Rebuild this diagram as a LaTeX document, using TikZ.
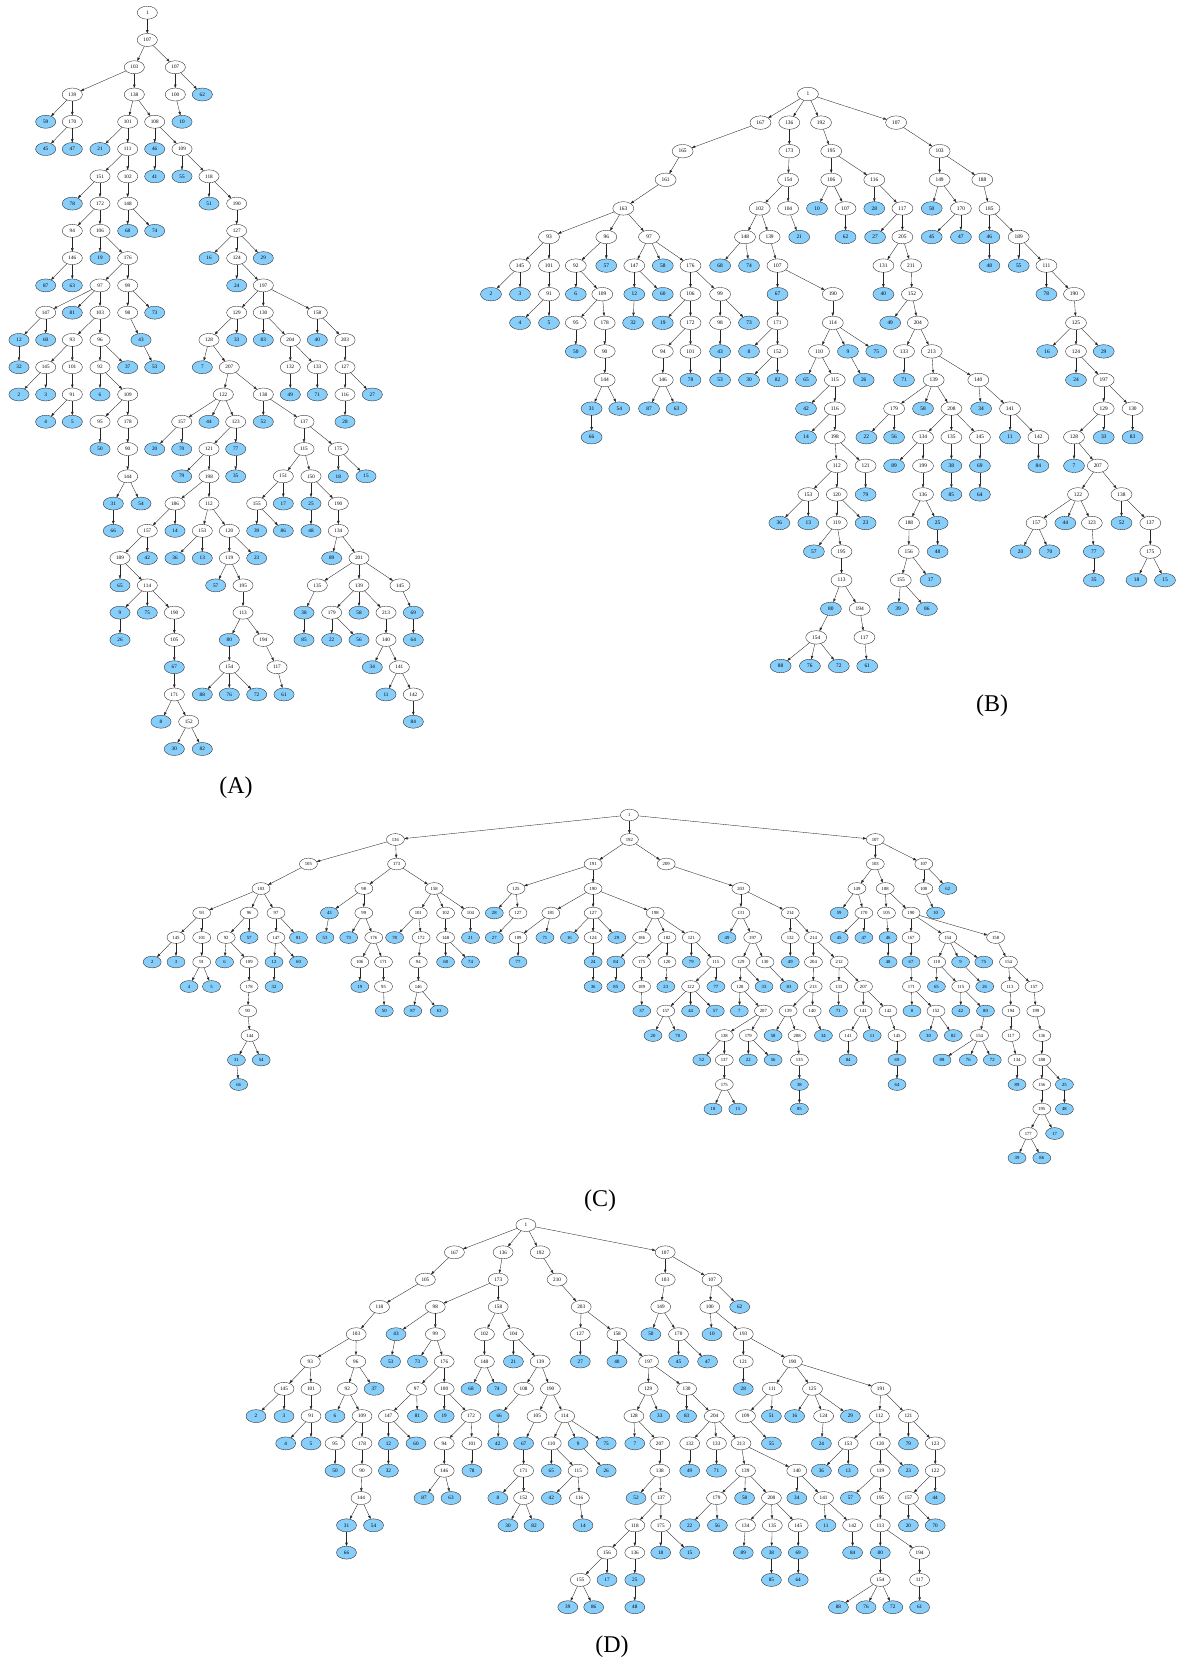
\documentclass[tikz,border=0pt]{standalone}
\usepackage{fontspec}
\setmainfont{Liberation Serif}
\usetikzlibrary{shapes.geometric,arrows.meta}
\definecolor{skyb}{HTML}{87CEFA}
\tikzset{
 nsz/.style={minimum width=20pt, minimum height=13pt, font=\fontsize{5.2}{5.2}\selectfont},
 nbase/.style={ellipse, draw=black!85, line width=0.35pt, inner sep=0pt, outer sep=0pt, nsz},
 wn/.style={nbase, fill=white},
 bn/.style={nbase, fill=skyb},
 edge/.style={line width=0.35pt, draw=black!85, -{Triangle[length=3.4pt,width=2.4pt]}},
 lbl/.style={font=\fontsize{24}{24}\selectfont}
}
\newcommand\Wn[5]{\node[wn] (#1) at (#3,#4) {#5};\draw[edge] (#2)--(#1);}
\newcommand\Bn[5]{\node[bn] (#1) at (#3,#4) {#5};\draw[edge] (#2)--(#1);}
\begin{document}
\begin{tikzpicture}[x=1pt,y=-1pt]
\fill[white] (0,0) rectangle (1177,1666);
\useasboundingbox (0,0) rectangle (1177,1666);
% ---------------- Tree A ----------------
\begin{scope}[yshift=-12.7pt, y=-27.27pt, nsz/.style={minimum width=20.2pt, minimum height=13pt, font=\fontsize{5.2}{5.2}\selectfont}]
\node[wn] (a1) at (147.3,0) {1};
\Wn{a107}{a1}{147.3}{1}{107}
\Wn{a103}{a107}{134.3}{2}{103}
\Wn{a107b}{a107}{175.3}{2}{107}
\Wn{a139}{a103}{72.3}{3}{139}
\Wn{a138}{a103}{134.3}{3}{138}
\Wn{a100}{a107b}{175.3}{3}{100}
\Bn{a62}{a107b}{202.3}{3}{62}
\Bn{a59}{a139}{45.7}{4}{59}
\Wn{a170}{a139}{72.3}{4}{170}
\Wn{a101}{a138}{127.7}{4}{101}
\Wn{a108}{a138}{154.7}{4}{108}
\Bn{a10}{a100}{182}{4}{10}
\Bn{a45}{a170}{45.7}{5}{45}
\Bn{a47}{a170}{72.3}{5}{47}
\Bn{a21}{a101}{100}{5}{21}
\Wn{a111}{a101}{127.7}{5}{111}
\Bn{a46}{a108}{154.7}{5}{46}
\Wn{a109}{a108}{182}{5}{109}
\Wn{a151}{a111}{100}{6}{151}
\Wn{a102}{a111}{127.7}{6}{102}
\Bn{a41}{a46}{154.7}{6}{41}
\Bn{a55}{a109}{182}{6}{55}
\Wn{a118}{a109}{209}{6}{118}
\Bn{a78}{a151}{72.3}{7}{78}
\Wn{a172}{a151}{100}{7}{172}
\Wn{a148}{a102}{127.7}{7}{148}
\Bn{a51}{a118}{209}{7}{51}
\Wn{a190}{a118}{236.7}{7}{190}
\Wn{a94}{a172}{72.3}{8}{94}
\Wn{a106}{a172}{100}{8}{106}
\Bn{a68}{a148}{127.7}{8}{68}
\Bn{a74}{a148}{154.7}{8}{74}
\Wn{a127}{a190}{236.7}{8}{127}
\Wn{a146}{a94}{72.3}{9}{146}
\Bn{a19}{a106}{100}{9}{19}
\Wn{a176}{a106}{127.7}{9}{176}
\Bn{a16}{a127}{209}{9}{16}
\Wn{a124}{a127}{236.7}{9}{124}
\Bn{a29}{a127}{263.3}{9}{29}
\Bn{a87}{a146}{45.7}{10}{87}
\Bn{a63}{a146}{72.3}{10}{63}
\Wn{a97}{a176}{100}{10}{97}
\Wn{a99}{a176}{127.7}{10}{99}
\Bn{a24}{a124}{236.7}{10}{24}
\Wn{a197}{a124}{263.3}{10}{197}
\Wn{a147}{a97}{45.7}{11}{147}
\Bn{a81}{a97}{72.3}{11}{81}
\Wn{a103b}{a97}{100}{11}{103}
\Wn{a98}{a99}{127.7}{11}{98}
\Bn{a73}{a99}{154.7}{11}{73}
\Wn{a129}{a197}{236.7}{11}{129}
\Wn{a130}{a197}{263.3}{11}{130}
\Wn{a158}{a197}{317.3}{11}{158}
\Bn{a12}{a147}{19}{12}{12}
\Bn{a60}{a147}{45.7}{12}{60}
\Wn{a93}{a103b}{72.3}{12}{93}
\Wn{a96}{a103b}{100}{12}{96}
\Bn{a43}{a98}{141}{12}{43}
\Wn{a128}{a129}{209}{12}{128}
\Bn{a33}{a129}{236.7}{12}{33}
\Bn{a83}{a130}{263.3}{12}{83}
\Wn{a204}{a130}{290.3}{12}{204}
\Bn{a40}{a158}{317.3}{12}{40}
\Wn{a203}{a158}{345}{12}{203}
\Bn{a32}{a12}{19}{13}{32}
\Wn{a145}{a93}{45.7}{13}{145}
\Wn{a101b}{a93}{72.3}{13}{101}
\Wn{a92}{a96}{100}{13}{92}
\Bn{a37}{a96}{127.7}{13}{37}
\Bn{a53}{a43}{154.7}{13}{53}
\Bn{a7}{a128}{202.3}{13}{7}
\Wn{a207}{a128}{229.3}{13}{207}
\Wn{a132}{a204}{290.3}{13}{132}
\Wn{a133}{a204}{317.3}{13}{133}
\Wn{a127b}{a203}{345}{13}{127}
\Bn{a2}{a145}{19}{14}{2}
\Bn{a3}{a145}{45.7}{14}{3}
\Wn{a91}{a101b}{72.3}{14}{91}
\Bn{a6}{a92}{100}{14}{6}
\Wn{a109b}{a92}{127.7}{14}{109}
\Wn{a122}{a207}{223.3}{14}{122}
\Wn{a138b}{a207}{263.3}{14}{138}
\Bn{a49}{a132}{290.3}{14}{49}
\Bn{a71}{a133}{317.3}{14}{71}
\Wn{a116}{a127b}{345}{14}{116}
\Bn{a27}{a127b}{372.3}{14}{27}
\Bn{a4}{a91}{45.7}{15}{4}
\Bn{a5}{a91}{72.3}{15}{5}
\Wn{a95}{a109b}{100}{15}{95}
\Wn{a178}{a109b}{127.7}{15}{178}
\Wn{a157}{a122}{181.7}{15}{157}
\Bn{a44}{a122}{209}{15}{44}
\Wn{a123}{a122}{235.7}{15}{123}
\Bn{a52}{a138b}{263.3}{15}{52}
\Wn{a137}{a138b}{304}{15}{137}
\Bn{a28}{a116}{345}{15}{28}
\Bn{a50}{a95}{100}{16}{50}
\Wn{a90}{a178}{127.7}{16}{90}
\Bn{a20}{a157}{154.7}{16}{20}
\Bn{a70}{a157}{181.7}{16}{70}
\Wn{a121}{a123}{209}{16}{121}
\Bn{a77}{a123}{235.7}{16}{77}
\Wn{a115}{a137}{304}{16}{115}
\Wn{a175}{a137}{338.3}{16}{175}
\Wn{a144}{a90}{127.7}{17}{144}
\Bn{a79}{a121}{181.7}{17}{79}
\Wn{a198}{a121}{209}{17}{198}
\Bn{a35}{a77}{235.7}{17}{35}
\Wn{a151b}{a115}{283.3}{17}{151}
\Wn{a150}{a115}{311}{17}{150}
\Bn{a18}{a175}{338.3}{17}{18}
\Bn{a15}{a175}{366}{17}{15}
\Bn{a31}{a144}{113.3}{18}{31}
\Bn{a54}{a144}{141}{18}{54}
\Wn{a186}{a198}{175}{18}{186}
\Wn{a112}{a198}{209}{18}{112}
\Wn{a155}{a151b}{256.7}{18}{155}
\Bn{a17}{a151b}{283.3}{18}{17}
\Bn{a25}{a150}{311}{18}{25}
\Wn{a190b}{a150}{338.3}{18}{190}
\Bn{a66}{a31}{113.3}{19}{66}
\Wn{a157b}{a186}{147.3}{19}{157}
\Bn{a14}{a186}{175}{19}{14}
\Wn{a153}{a112}{202.3}{19}{153}
\Wn{a120}{a112}{229.3}{19}{120}
\Bn{a39}{a155}{256.7}{19}{39}
\Bn{a86}{a155}{283.3}{19}{86}
\Bn{a48}{a25}{311}{19}{48}
\Wn{a134}{a190b}{338.3}{19}{134}
\Wn{a189}{a157b}{120}{20}{189}
\Bn{a42}{a157b}{147.3}{20}{42}
\Bn{a36}{a153}{175}{20}{36}
\Bn{a13}{a153}{202.3}{20}{13}
\Wn{a119}{a120}{229.3}{20}{119}
\Bn{a23}{a120}{256.7}{20}{23}
\Bn{a89}{a134}{331.7}{20}{89}
\Wn{a201}{a134}{359}{20}{201}
\Bn{a65}{a189}{120}{21}{65}
\Wn{a114}{a189}{147.3}{21}{114}
\Bn{a57}{a119}{215.7}{21}{57}
\Wn{a195}{a119}{243}{21}{195}
\Wn{a135}{a201}{317.3}{21}{135}
\Wn{a139b}{a201}{359}{21}{139}
\Wn{a145b}{a201}{400}{21}{145}
\Bn{a9}{a114}{120}{22}{9}
\Bn{a75}{a114}{147.3}{22}{75}
\Wn{a190c}{a114}{174.3}{22}{190}
\Wn{a113}{a195}{243}{22}{113}
\Bn{a38}{a135}{304}{22}{38}
\Wn{a179}{a139b}{331.7}{22}{179}
\Bn{a58}{a139b}{359}{22}{58}
\Wn{a213}{a139b}{386}{22}{213}
\Bn{a69}{a145b}{413.3}{22}{69}
\Bn{a26}{a9}{120}{23}{26}
\Wn{a105}{a190c}{174.3}{23}{105}
\Bn{a80}{a113}{229.3}{23}{80}
\Wn{a194}{a113}{263.3}{23}{194}
\Bn{a85}{a38}{304}{23}{85}
\Bn{a22}{a179}{331.7}{23}{22}
\Bn{a56}{a179}{359}{23}{56}
\Wn{a140}{a213}{386}{23}{140}
\Bn{a64}{a69}{413.3}{23}{64}
\Bn{a67}{a105}{174.3}{24}{67}
\Wn{a154}{a80}{229.3}{24}{154}
\Wn{a117}{a194}{277}{24}{117}
\Bn{a34}{a140}{372.3}{24}{34}
\Wn{a141}{a140}{399.3}{24}{141}
\Wn{a171}{a67}{174.3}{25}{171}
\Bn{a88}{a154}{202.3}{25}{88}
\Bn{a76}{a154}{229.3}{25}{76}
\Bn{a72}{a154}{256.7}{25}{72}
\Bn{a61}{a117}{284}{25}{61}
\Bn{a11}{a141}{386}{25}{11}
\Wn{a142}{a141}{413.3}{25}{142}
\Bn{a8}{a171}{161}{26}{8}
\Wn{a152}{a171}{188.7}{26}{152}
\Bn{a84}{a142}{413.3}{26}{84}
\Bn{a30}{a152}{174.3}{27}{30}
\Bn{a82}{a152}{202.3}{27}{82}
\end{scope}
% ---------------- Tree B ----------------
\begin{scope}[yshift=-94pt, y=-28.6pt, nsz/.style={minimum width=21pt, minimum height=13.5pt, font=\fontsize{5.4}{5.4}\selectfont}]
\node[wn] (b1) at (807.9,0) {1};
\Wn{b167}{b1}{760.5}{1}{167}
\Wn{b136}{b1}{789.3}{1}{136}
\Wn{b192}{b1}{821}{1}{192}
\Wn{b107}{b1}{896.1}{1}{107}
\Wn{b165}{b167}{682.6}{2}{165}
\Wn{b173}{b136}{789.3}{2}{173}
\Wn{b195}{b192}{831.2}{2}{195}
\Wn{b103}{b107}{939.6}{2}{103}
\Wn{b161}{b165}{665.6}{3}{161}
\Wn{b154}{b173}{788.1}{3}{154}
\Wn{b106}{b195}{831.2}{3}{106}
\Wn{b116}{b195}{874.3}{3}{116}
\Wn{b149}{b103}{939.6}{3}{149}
\Wn{b188}{b103}{982.3}{3}{188}
\Wn{b163}{b161}{623.3}{4}{163}
\Wn{b102}{b154}{759.7}{4}{102}
\Wn{b104}{b154}{788.1}{4}{104}
\Bn{b10}{b106}{817}{4}{10}
\Wn{b107b}{b106}{845.5}{4}{107}
\Bn{b28}{b116}{874.3}{4}{28}
\Wn{b117}{b116}{902.4}{4}{117}
\Bn{b50}{b149}{931.7}{4}{50}
\Wn{b170}{b149}{960.9}{4}{170}
\Wn{b185}{b188}{989.4}{4}{185}
\Wn{b93}{b163}{549}{5}{93}
\Wn{b96}{b163}{606.3}{5}{96}
\Wn{b97}{b163}{649}{5}{97}
\Wn{b148}{b102}{745}{5}{148}
\Wn{b139}{b102}{769.6}{5}{139}
\Bn{b21}{b104}{799.2}{5}{21}
\Bn{b62}{b107b}{845.5}{5}{62}
\Bn{b27}{b117}{875.1}{5}{27}
\Wn{b205}{b117}{902.4}{5}{205}
\Bn{b45}{b170}{931.7}{5}{45}
\Bn{b47}{b170}{960.9}{5}{47}
\Bn{b46}{b185}{989.4}{5}{46}
\Wn{b189}{b185}{1018.7}{5}{189}
\Wn{b145}{b93}{520}{6}{145}
\Wn{b101}{b93}{549}{6}{101}
\Wn{b92}{b96}{575.8}{6}{92}
\Bn{b57}{b96}{606.3}{6}{57}
\Wn{b147}{b97}{634.3}{6}{147}
\Bn{b58}{b97}{662.8}{6}{58}
\Wn{b176}{b97}{690.5}{6}{176}
\Bn{b68}{b148}{720.1}{6}{68}
\Bn{b74}{b148}{749}{6}{74}
\Wn{b107c}{b139}{777.5}{6}{107}
\Wn{b131}{b205}{883.4}{6}{131}
\Wn{b211}{b205}{911.1}{6}{211}
\Bn{b48}{b46}{989.4}{6}{48}
\Bn{b55}{b189}{1018.7}{6}{55}
\Wn{b111}{b189}{1046.4}{6}{111}
\Bn{b2}{b145}{491}{7}{2}
\Bn{b3}{b145}{520}{7}{3}
\Wn{b91}{b101}{549}{7}{91}
\Bn{b6}{b92}{575.8}{7}{6}
\Wn{b109}{b92}{602.3}{7}{109}
\Bn{b12}{b147}{634.3}{7}{12}
\Bn{b60}{b147}{662.8}{7}{60}
\Wn{b106b}{b176}{690.5}{7}{106}
\Wn{b99}{b176}{720.1}{7}{99}
\Bn{b67}{b107c}{777.5}{7}{67}
\Wn{b190}{b107c}{832.8}{7}{190}
\Bn{b40}{b131}{883.4}{7}{40}
\Wn{b152}{b211}{911.9}{7}{152}
\Bn{b78}{b111}{1046.4}{7}{78}
\Wn{b190b}{b111}{1074}{7}{190}
\Bn{b4}{b91}{520}{8}{4}
\Bn{b5}{b91}{549}{8}{5}
\Wn{b95}{b109}{575.8}{8}{95}
\Wn{b178}{b109}{604.7}{8}{178}
\Bn{b32}{b12}{633.1}{8}{32}
\Bn{b19}{b106b}{662.8}{8}{19}
\Wn{b172}{b106b}{690.5}{8}{172}
\Wn{b98}{b99}{720.1}{8}{98}
\Bn{b73}{b99}{749}{8}{73}
\Wn{b171}{b67}{777.5}{8}{171}
\Wn{b114}{b190}{832.8}{8}{114}
\Bn{b49}{b152}{890.2}{8}{49}
\Wn{b204}{b152}{917.8}{8}{204}
\Wn{b125}{b190b}{1076}{8}{125}
\Bn{b50b}{b95}{575.8}{9}{50}
\Wn{b90}{b178}{604.7}{9}{90}
\Wn{b94}{b172}{662.8}{9}{94}
\Wn{b101b}{b172}{690.5}{9}{101}
\Bn{b43}{b98}{720.1}{9}{43}
\Bn{b8}{b171}{749}{9}{8}
\Wn{b152b}{b171}{777.5}{9}{152}
\Wn{b110}{b114}{819}{9}{110}
\Bn{b9}{b114}{847.9}{9}{9}
\Bn{b75}{b114}{876.3}{9}{75}
\Wn{b133}{b204}{904}{9}{133}
\Wn{b213}{b204}{931.7}{9}{213}
\Bn{b16}{b125}{1047.1}{9}{16}
\Wn{b124}{b125}{1076}{9}{124}
\Bn{b29}{b125}{1103.7}{9}{29}
\Wn{b144}{b90}{604.7}{10}{144}
\Wn{b146}{b94}{662.8}{10}{146}
\Bn{b78b}{b101b}{690.5}{10}{78}
\Bn{b53}{b43}{720.1}{10}{53}
\Bn{b30}{b152b}{749}{10}{30}
\Bn{b82}{b152b}{777.5}{10}{82}
\Bn{b65}{b110}{806}{10}{65}
\Wn{b115}{b110}{834.8}{10}{115}
\Bn{b26}{b9}{863.7}{10}{26}
\Bn{b71}{b133}{904}{10}{71}
\Wn{b139b}{b213}{933.7}{10}{139}
\Wn{b140}{b213}{978.3}{10}{140}
\Bn{b24}{b124}{1076}{10}{24}
\Wn{b197}{b124}{1103.7}{10}{197}
\Bn{b31}{b144}{591.6}{11}{31}
\Bn{b54}{b144}{619.3}{11}{54}
\Bn{b87}{b146}{649}{11}{87}
\Bn{b63}{b146}{676.6}{11}{63}
\Bn{b42}{b115}{806}{11}{42}
\Wn{b116b}{b115}{834.8}{11}{116}
\Wn{b179}{b139b}{894.1}{11}{179}
\Bn{b58b}{b139b}{923}{11}{58}
\Wn{b208}{b139b}{951.4}{11}{208}
\Bn{b34}{b140}{981.1}{11}{34}
\Wn{b141}{b140}{1010}{11}{141}
\Wn{b129}{b197}{1103.7}{11}{129}
\Wn{b130}{b197}{1132.6}{11}{130}
\Bn{b66}{b31}{591.6}{12}{66}
\Bn{b14}{b116b}{806}{12}{14}
\Wn{b198}{b116b}{834.8}{12}{198}
\Bn{b22}{b179}{866.4}{12}{22}
\Bn{b56}{b179}{894.1}{12}{56}
\Wn{b134}{b208}{923}{12}{134}
\Wn{b135}{b208}{951.4}{12}{135}
\Wn{b145b}{b208}{979.9}{12}{145}
\Bn{b11}{b141}{1010}{12}{11}
\Wn{b142}{b141}{1038.4}{12}{142}
\Wn{b128}{b129}{1074}{12}{128}
\Bn{b33}{b129}{1103.7}{12}{33}
\Bn{b83}{b130}{1132.6}{12}{83}
\Wn{b112}{b198}{836.8}{13}{112}
\Wn{b121}{b198}{865.6}{13}{121}
\Bn{b89}{b134}{894.1}{13}{89}
\Wn{b199}{b134}{923}{13}{199}
\Bn{b38}{b135}{951.4}{13}{38}
\Bn{b69}{b145b}{979.9}{13}{69}
\Bn{b84}{b142}{1038.4}{13}{84}
\Bn{b7}{b128}{1074}{13}{7}
\Wn{b207}{b128}{1097.8}{13}{207}
\Wn{b153}{b112}{808.3}{14}{153}
\Wn{b120}{b112}{836.8}{14}{120}
\Bn{b79}{b121}{865.6}{14}{79}
\Wn{b136b}{b199}{923}{14}{136}
\Bn{b85}{b38}{951.4}{14}{85}
\Bn{b64}{b69}{979.9}{14}{64}
\Wn{b122}{b207}{1078}{14}{122}
\Wn{b138}{b207}{1121.5}{14}{138}
\Bn{b36}{b153}{779.4}{15}{36}
\Bn{b13}{b153}{808.3}{15}{13}
\Wn{b119}{b120}{836.8}{15}{119}
\Bn{b23}{b120}{865.6}{15}{23}
\Wn{b188b}{b136b}{909.1}{15}{188}
\Bn{b25}{b136b}{937.6}{15}{25}
\Wn{b157}{b122}{1036.5}{15}{157}
\Bn{b44}{b122}{1065.3}{15}{44}
\Wn{b123}{b122}{1091.8}{15}{123}
\Bn{b52}{b138}{1121.5}{15}{52}
\Wn{b137}{b138}{1150.3}{15}{137}
\Bn{b57b}{b119}{813.9}{16}{57}
\Wn{b195b}{b119}{841.5}{16}{195}
\Wn{b156}{b188b}{908.7}{16}{156}
\Bn{b48b}{b25}{937.6}{16}{48}
\Bn{b20}{b157}{1020.6}{16}{20}
\Bn{b70}{b157}{1049.5}{16}{70}
\Bn{b77}{b123}{1093.8}{16}{77}
\Wn{b175}{b137}{1150.3}{16}{175}
\Wn{b113}{b195b}{841.5}{17}{113}
\Wn{b155}{b156}{900.8}{17}{155}
\Bn{b17}{b156}{930.5}{17}{17}
\Bn{b35}{b77}{1093.8}{17}{35}
\Bn{b18}{b175}{1136.5}{17}{18}
\Bn{b15}{b175}{1165}{17}{15}
\Bn{b80}{b113}{830.9}{18}{80}
\Wn{b194}{b113}{859.7}{18}{194}
\Bn{b39}{b155}{898.1}{18}{39}
\Bn{b86}{b155}{926.9}{18}{86}
\Wn{b154b}{b80}{816.2}{19}{154}
\Wn{b117b}{b194}{864.4}{19}{117}
\Bn{b88}{b154b}{780.6}{20}{88}
\Bn{b76}{b154b}{809.9}{20}{76}
\Bn{b72}{b154b}{838.8}{20}{72}
\Bn{b61}{b117b}{867.2}{20}{61}
\end{scope}
% ---------------- Tree C ----------------
\begin{scope}[yshift=-815pt, y=-24.5pt, nsz/.style={minimum width=18pt, minimum height=11.8pt, font=\fontsize{4.7}{4.7}\selectfont}]
\node[wn] (c1) at (629.4,0) {1};
\Wn{c136}{c1}{395.4}{1}{136}
\Wn{c192}{c1}{629.4}{1}{192}
\Wn{c107}{c1}{875.3}{1}{107}
\Wn{c105}{c136}{308.4}{2}{105}
\Wn{c173}{c136}{396.6}{2}{173}
\Wn{c191}{c192}{593.1}{2}{191}
\Wn{c209}{c192}{666.2}{2}{209}
\Wn{c103}{c107}{875.3}{2}{103}
\Wn{c107b}{c107}{923.8}{2}{107}
\Wn{c103b}{c105}{261}{3}{103}
\Wn{c98}{c173}{363.8}{3}{98}
\Wn{c158}{c173}{434.2}{3}{158}
\Wn{c125}{c191}{516}{3}{125}
\Wn{c190}{c191}{593.1}{3}{190}
\Wn{c203}{c209}{740.9}{3}{203}
\Wn{c149}{c103}{856.9}{3}{149}
\Wn{c188}{c103}{885.2}{3}{188}
\Wn{c100}{c107b}{923.8}{3}{100}
\Bn{c62}{c107b}{947.8}{3}{62}
\Wn{c93}{c103b}{201.7}{4}{93}
\Wn{c96}{c103b}{249.1}{4}{96}
\Wn{c97}{c103b}{276}{4}{97}
\Bn{c43}{c98}{329.4}{4}{43}
\Wn{c99}{c98}{363.8}{4}{99}
\Wn{c101}{c158}{418.3}{4}{101}
\Wn{c102}{c158}{445.6}{4}{102}
\Wn{c104}{c158}{470.5}{4}{104}
\Bn{c28}{c125}{494.3}{4}{28}
\Wn{c127}{c125}{518}{4}{127}
\Wn{c181}{c190}{550.8}{4}{181}
\Wn{c127b}{c190}{593.1}{4}{127}
\Wn{c198}{c190}{655.2}{4}{198}
\Wn{c131}{c203}{740.9}{4}{131}
\Wn{c214}{c203}{790.3}{4}{214}
\Bn{c59}{c149}{839.2}{4}{59}
\Wn{c170}{c149}{863.9}{4}{170}
\Wn{c105b}{c188}{886.5}{4}{105}
\Wn{c190b}{c188}{911}{4}{190}
\Bn{c10}{c100}{935.6}{4}{10}
\Wn{c145}{c93}{176}{5}{145}
\Wn{c101b}{c93}{201.7}{5}{101}
\Wn{c92}{c96}{226.2}{5}{92}
\Bn{c57}{c96}{249.1}{5}{57}
\Wn{c147}{c97}{276}{5}{147}
\Bn{c81}{c97}{298.5}{5}{81}
\Bn{c53}{c43}{325}{5}{53}
\Bn{c73}{c99}{348.7}{5}{73}
\Wn{c176}{c99}{373.7}{5}{176}
\Bn{c78}{c101}{394.6}{5}{78}
\Wn{c172}{c101}{421.1}{5}{172}
\Wn{c148}{c102}{445.6}{5}{148}
\Bn{c21}{c104}{470.5}{5}{21}
\Bn{c27}{c127}{494.3}{5}{27}
\Wn{c109}{c181}{518}{5}{109}
\Bn{c71}{c181}{544.9}{5}{71}
\Bn{c16}{c127b}{569.4}{5}{16}
\Wn{c124}{c127b}{593.1}{5}{124}
\Bn{c29}{c127b}{616.8}{5}{29}
\Wn{c186}{c198}{641.6}{5}{186}
\Wn{c182}{c198}{667}{5}{182}
\Wn{c121}{c198}{691.3}{5}{121}
\Bn{c49}{c131}{727}{5}{49}
\Wn{c197}{c131}{752.7}{5}{197}
\Wn{c132}{c214}{790.3}{5}{132}
\Wn{c214b}{c214}{813.4}{5}{214}
\Bn{c45}{c170}{839.2}{5}{45}
\Bn{c47}{c170}{863.9}{5}{47}
\Bn{c46}{c105b}{888.1}{5}{46}
\Wn{c167}{c190b}{911}{5}{167}
\Wn{c154}{c190b}{947.8}{5}{154}
\Wn{c158b}{c190b}{995.6}{5}{158}
\Bn{c2}{c145}{152.2}{6}{2}
\Bn{c3}{c145}{176}{6}{3}
\Wn{c91}{c101b}{201.7}{6}{91}
\Bn{c6}{c92}{224.6}{6}{6}
\Wn{c109b}{c92}{249.1}{6}{109}
\Bn{c12}{c147}{274}{6}{12}
\Bn{c60}{c147}{298.5}{6}{60}
\Wn{c106}{c176}{359.8}{6}{106}
\Wn{c171}{c176}{383.5}{6}{171}
\Wn{c94}{c172}{418.3}{6}{94}
\Bn{c68}{c148}{445.6}{6}{68}
\Bn{c74}{c148}{470.5}{6}{74}
\Bn{c77}{c109}{518}{6}{77}
\Bn{c24}{c124}{593.1}{6}{24}
\Bn{c84}{c186}{615.8}{6}{84}
\Wn{c175}{c182}{641.6}{6}{175}
\Wn{c120}{c182}{667}{6}{120}
\Bn{c79}{c121}{691.3}{6}{79}
\Wn{c115}{c121}{715.9}{6}{115}
\Wn{c129}{c197}{740.9}{6}{129}
\Wn{c130}{c197}{765}{6}{130}
\Bn{c49b}{c132}{790.3}{6}{49}
\Wn{c204}{c214b}{813.4}{6}{204}
\Wn{c212}{c214b}{839.2}{6}{212}
\Bn{c48}{c46}{888.1}{6}{48}
\Bn{c67}{c167}{911}{6}{67}
\Wn{c110}{c154}{936.7}{6}{110}
\Bn{c9}{c154}{960.6}{6}{9}
\Bn{c75}{c154}{983.8}{6}{75}
\Wn{c154b}{c158b}{1008.5}{6}{154}
\Bn{c4}{c91}{189}{7}{4}
\Bn{c5}{c91}{211.5}{7}{5}
\Wn{c178}{c109b}{249.1}{7}{178}
\Bn{c32}{c12}{274}{7}{32}
\Bn{c19}{c106}{359.8}{7}{19}
\Wn{c95}{c171}{383.5}{7}{95}
\Wn{c146}{c94}{418.3}{7}{146}
\Bn{c36}{c24}{593.1}{7}{36}
\Bn{c85}{c84}{615.8}{7}{85}
\Wn{c189}{c175}{641.6}{7}{189}
\Bn{c23}{c120}{665.8}{7}{23}
\Wn{c122}{c115}{690.6}{7}{122}
\Bn{c77b}{c115}{715.9}{7}{77}
\Wn{c128}{c129}{740}{7}{128}
\Bn{c33}{c129}{764}{7}{33}
\Bn{c83}{c130}{789}{7}{83}
\Wn{c213}{c204}{813.2}{7}{213}
\Wn{c133}{c212}{838.8}{7}{133}
\Wn{c207b}{c212}{863.5}{7}{207}
\Wn{c171b}{c67}{911.5}{7}{171}
\Bn{c65}{c110}{936.4}{7}{65}
\Wn{c105c}{c110}{960.7}{7}{115}
\Bn{c26}{c9}{984.7}{7}{26}
\Wn{c113}{c154b}{1010}{7}{113}
\Wn{c157b}{c154b}{1034}{7}{157}
\Wn{c90}{c178}{247.7}{8}{90}
\Bn{c50}{c95}{384.3}{8}{50}
\Bn{c87}{c146}{412.8}{8}{87}
\Bn{c63}{c146}{439.1}{8}{63}
\Bn{c37}{c189}{641.8}{8}{37}
\Wn{c157}{c122}{665.8}{8}{157}
\Bn{c44}{c122}{690.6}{8}{44}
\Bn{c57b}{c122}{715.3}{8}{57}
\Bn{c7}{c128}{739.3}{8}{7}
\Wn{c207}{c128}{763.4}{8}{207}
\Wn{c139}{c213}{788.1}{8}{139}
\Wn{c140}{c213}{812.2}{8}{140}
\Bn{c71b}{c133}{838.4}{8}{71}
\Wn{c141}{c207b}{863.2}{8}{141}
\Wn{c142}{c207b}{888}{8}{142}
\Bn{c8}{c171b}{912}{8}{8}
\Wn{c152}{c171b}{936}{8}{152}
\Bn{c42}{c105c}{960.8}{8}{42}
\Bn{c80}{c105c}{985.5}{8}{80}
\Wn{c194}{c113}{1011}{8}{194}
\Wn{c199}{c157b}{1035.8}{8}{199}
\Wn{c144}{c90}{250}{9}{144}
\Bn{c20}{c157}{653}{9}{20}
\Bn{c70}{c157}{677.8}{9}{70}
\Wn{c138}{c207}{724.3}{9}{138}
\Wn{c179}{c207}{748.3}{9}{179}
\Bn{c58}{c139}{773.1}{9}{58}
\Wn{c208}{c139}{797.1}{9}{208}
\Bn{c34}{c140}{823.4}{9}{34}
\Wn{c141b}{c141}{848.2}{9}{141}
\Bn{c11}{c141}{872.2}{9}{11}
\Wn{c145b}{c142}{897}{9}{145}
\Bn{c30}{c152}{928.5}{9}{30}
\Bn{c82}{c152}{953.3}{9}{82}
\Wn{c154c}{c80}{979.5}{9}{154}
\Wn{c117}{c194}{1011}{9}{117}
\Wn{c136b}{c199}{1041.8}{9}{136}
\Bn{c31}{c144}{236.4}{10}{31}
\Bn{c54}{c144}{261.2}{10}{54}
\Bn{c52}{c138}{701.8}{10}{52}
\Wn{c137}{c138}{724.3}{10}{137}
\Bn{c22}{c179}{748.3}{10}{22}
\Bn{c56}{c179}{773.1}{10}{56}
\Wn{c135}{c208}{799.4}{10}{135}
\Bn{c84b}{c141b}{848.2}{10}{84}
\Bn{c69}{c145b}{897}{10}{69}
\Bn{c88}{c154c}{942}{10}{88}
\Bn{c76}{c154c}{968.3}{10}{76}
\Bn{c72}{c154c}{992.3}{10}{72}
\Wn{c134}{c117}{1017}{10}{134}
\Wn{c188b}{c136b}{1041.8}{10}{188}
\Bn{c66}{c31}{238.7}{11}{66}
\Wn{c175b}{c137}{724.3}{11}{175}
\Bn{c38}{c135}{799.4}{11}{38}
\Bn{c64}{c69}{897}{11}{64}
\Bn{c89}{c134}{1017}{11}{89}
\Wn{c156}{c188b}{1041.8}{11}{156}
\Bn{c25}{c188b}{1064.4}{11}{25}
\Bn{c18}{c175b}{713}{12}{18}
\Bn{c15}{c175b}{737.8}{12}{15}
\Bn{c85b}{c38}{799.4}{12}{85}
\Wn{c155}{c156}{1041.8}{12}{195}
\Bn{c48b}{c25}{1064.4}{12}{48}
\Wn{c177}{c155}{1028.3}{13}{177}
\Bn{c17}{c155}{1054.6}{13}{17}
\Bn{c39}{c177}{1017}{14}{39}
\Bn{c86}{c177}{1041.8}{14}{86}
\end{scope}
% ---------------- Tree D ----------------
\begin{scope}[yshift=-1225pt, y=-27.3pt, nsz/.style={minimum width=20pt, minimum height=13pt, font=\fontsize{5.2}{5.2}\selectfont}]
\node[wn] (d1) at (525.9,0) {1};
\Wn{d167}{d1}{454.4}{1}{167}
\Wn{d136}{d1}{503.1}{1}{136}
\Wn{d192}{d1}{540.2}{1}{192}
\Wn{d107}{d1}{665.2}{1}{107}
\Wn{d105}{d167}{425.4}{2}{105}
\Wn{d173}{d136}{498.2}{2}{173}
\Wn{d210}{d192}{557.1}{2}{210}
\Wn{d103}{d107}{665.2}{2}{103}
\Wn{d107b}{d107}{712}{2}{107}
\Wn{d118}{d105}{379.5}{3}{118}
\Wn{d98}{d173}{435.3}{3}{98}
\Wn{d158}{d173}{498.2}{3}{158}
\Wn{d203}{d210}{581.2}{3}{203}
\Wn{d149}{d103}{660.7}{3}{149}
\Wn{d100}{d107b}{709.8}{3}{100}
\Bn{d62}{d107b}{739.7}{3}{62}
\Wn{d103b}{d118}{356.2}{4}{103}
\Bn{d43}{d98}{396}{4}{43}
\Wn{d99}{d98}{435.3}{4}{99}
\Wn{d102}{d158}{484.4}{4}{102}
\Wn{d104}{d158}{513.4}{4}{104}
\Wn{d127}{d203}{580.3}{4}{127}
\Wn{d158b}{d203}{616.9}{4}{158}
\Bn{d50}{d149}{650.9}{4}{50}
\Wn{d170}{d149}{678.5}{4}{170}
\Bn{d10}{d100}{712}{4}{10}
\Wn{d193}{d100}{743.3}{4}{193}
\Wn{d93}{d103b}{310.3}{5}{93}
\Wn{d96}{d103b}{355.8}{5}{96}
\Bn{d53}{d43}{390.6}{5}{53}
\Bn{d73}{d99}{417.4}{5}{73}
\Wn{d176}{d99}{444.2}{5}{176}
\Wn{d148}{d102}{484.4}{5}{148}
\Bn{d21}{d104}{513.4}{5}{21}
\Wn{d139}{d104}{540.2}{5}{139}
\Bn{d27}{d127}{580.3}{5}{27}
\Bn{d40}{d158b}{616.9}{5}{40}
\Wn{d197}{d158b}{648.6}{5}{197}
\Bn{d45}{d170}{678.5}{5}{45}
\Bn{d47}{d170}{707.6}{5}{47}
\Wn{d121}{d193}{743.3}{5}{121}
\Wn{d190}{d193}{792.4}{5}{190}
\Wn{d145}{d93}{284}{6}{145}
\Wn{d101}{d93}{311}{6}{101}
\Wn{d92}{d96}{347.3}{6}{92}
\Bn{d37}{d96}{374.1}{6}{37}
\Wn{d97}{d176}{416.5}{6}{97}
\Wn{d100b}{d176}{444.2}{6}{100}
\Bn{d68}{d148}{471}{6}{68}
\Bn{d74}{d148}{496.9}{6}{74}
\Wn{d108}{d139}{523.6}{6}{108}
\Wn{d190b}{d139}{550.4}{6}{190}
\Wn{d129}{d197}{648.2}{6}{129}
\Wn{d130}{d197}{686.6}{6}{130}
\Bn{d28}{d121}{743.3}{6}{28}
\Wn{d111}{d190}{772.3}{6}{111}
\Wn{d125}{d190}{812.5}{6}{125}
\Wn{d191}{d190}{880.8}{6}{191}
\Bn{d2}{d145}{256}{7}{2}
\Bn{d3}{d145}{284}{7}{3}
\Wn{d91}{d101}{311}{7}{91}
\Bn{d6}{d92}{335}{7}{6}
\Wn{d109}{d92}{362}{7}{109}
\Wn{d147}{d97}{388.4}{7}{147}
\Bn{d81}{d97}{417.4}{7}{81}
\Bn{d19}{d100b}{444.2}{7}{19}
\Wn{d172}{d100b}{471}{7}{172}
\Bn{d66}{d108}{499.1}{7}{66}
\Wn{d105b}{d190b}{537}{7}{105}
\Wn{d114}{d190b}{564.7}{7}{114}
\Wn{d128}{d129}{633.9}{7}{128}
\Bn{d33}{d129}{659.8}{7}{33}
\Bn{d83}{d130}{686.6}{7}{83}
\Wn{d204}{d130}{714.3}{7}{204}
\Wn{d109b}{d111}{745.5}{7}{109}
\Bn{d51}{d111}{771.4}{7}{51}
\Bn{d16}{d125}{794.6}{7}{16}
\Wn{d124}{d125}{823.6}{7}{124}
\Bn{d29}{d125}{850.4}{7}{29}
\Wn{d112}{d191}{879.4}{7}{112}
\Wn{d121b}{d191}{908.4}{7}{121}
\Bn{d4}{d91}{285.7}{8}{4}
\Bn{d5}{d91}{311}{8}{5}
\Wn{d95}{d109}{335}{8}{95}
\Wn{d178}{d109}{362}{8}{178}
\Bn{d12}{d147}{388.4}{8}{12}
\Bn{d60}{d147}{416}{8}{60}
\Wn{d94}{d172}{444.2}{8}{94}
\Wn{d101b}{d172}{471.9}{8}{101}
\Bn{d42}{d66}{497.8}{8}{42}
\Bn{d67}{d105b}{523.6}{8}{67}
\Wn{d110}{d114}{551.3}{8}{110}
\Bn{d9}{d114}{578.1}{8}{9}
\Bn{d75}{d114}{606.2}{8}{75}
\Bn{d7}{d128}{634.8}{8}{7}
\Wn{d207}{d128}{659.8}{8}{207}
\Wn{d132}{d204}{689.7}{8}{132}
\Wn{d133}{d204}{716.5}{8}{133}
\Wn{d213}{d204}{741}{8}{213}
\Bn{d55}{d109b}{771.4}{8}{55}
\Bn{d24}{d124}{821.4}{8}{24}
\Wn{d153}{d112}{848.2}{8}{153}
\Wn{d120}{d112}{880.3}{8}{120}
\Bn{d79}{d121b}{908.4}{8}{79}
\Wn{d123}{d121b}{935.2}{8}{123}
\Bn{d50b}{d95}{335}{9}{50}
\Wn{d90}{d178}{362}{9}{90}
\Bn{d32}{d12}{388.4}{9}{32}
\Wn{d146}{d94}{444.2}{9}{146}
\Bn{d78}{d101b}{471.9}{9}{78}
\Wn{d171}{d67}{523.6}{9}{171}
\Bn{d65}{d110}{551.3}{9}{65}
\Wn{d115}{d110}{578.1}{9}{115}
\Bn{d26}{d9}{606.2}{9}{26}
\Wn{d138}{d207}{659.8}{9}{138}
\Bn{d49}{d132}{689.7}{9}{49}
\Bn{d71}{d133}{716.5}{9}{71}
\Wn{d139b}{d213}{745.5}{9}{139}
\Wn{d140}{d213}{796.8}{9}{140}
\Bn{d36}{d153}{821.4}{9}{36}
\Bn{d13}{d153}{848.2}{9}{13}
\Wn{d119}{d120}{880.3}{9}{119}
\Bn{d23}{d120}{908.4}{9}{23}
\Wn{d122}{d123}{935.2}{9}{122}
\Wn{d144}{d90}{361}{10}{144}
\Bn{d87}{d146}{424}{10}{87}
\Bn{d63}{d146}{451}{10}{63}
\Bn{d8}{d171}{497.8}{10}{8}
\Wn{d152}{d171}{523.6}{10}{152}
\Bn{d42b}{d115}{551.3}{10}{42}
\Wn{d116}{d115}{579.4}{10}{116}
\Bn{d52}{d138}{636}{10}{52}
\Wn{d137}{d138}{661}{10}{137}
\Wn{d179}{d139b}{716.5}{10}{179}
\Bn{d58}{d139b}{744.6}{10}{58}
\Wn{d208}{d139b}{771.4}{10}{208}
\Bn{d34}{d140}{796.8}{10}{34}
\Wn{d141}{d140}{823.6}{10}{141}
\Bn{d57}{d119}{850.4}{10}{57}
\Wn{d195}{d119}{880.3}{10}{195}
\Wn{d157}{d122}{908.4}{10}{157}
\Bn{d44}{d122}{935.2}{10}{44}
\Bn{d31}{d144}{346.5}{11}{31}
\Bn{d54}{d144}{373.5}{11}{54}
\Bn{d30}{d152}{508}{11}{30}
\Bn{d82}{d152}{534}{11}{82}
\Bn{d14}{d116}{583}{11}{14}
\Wn{d118b}{d137}{634.8}{11}{118}
\Wn{d175}{d137}{660.7}{11}{175}
\Bn{d22}{d179}{689.7}{11}{22}
\Bn{d56}{d179}{717.4}{11}{56}
\Wn{d134}{d208}{745.5}{11}{134}
\Wn{d135}{d208}{772.3}{11}{135}
\Wn{d145b}{d208}{798.2}{11}{145}
\Bn{d11}{d141}{825.9}{11}{11}
\Wn{d142}{d141}{852.6}{11}{142}
\Wn{d113}{d195}{880.3}{11}{113}
\Bn{d20}{d157}{908.4}{11}{20}
\Bn{d70}{d157}{935.2}{11}{70}
\Bn{d66b}{d31}{346.5}{12}{66}
\Wn{d156}{d118b}{607}{12}{156}
\Wn{d136b}{d118b}{634.8}{12}{136}
\Bn{d18}{d175}{660.7}{12}{18}
\Bn{d15}{d175}{689.7}{12}{15}
\Bn{d89}{d134}{743.3}{12}{89}
\Bn{d38}{d135}{771.4}{12}{38}
\Bn{d69}{d145b}{798.2}{12}{69}
\Bn{d84}{d142}{852.6}{12}{84}
\Bn{d80}{d113}{880.3}{12}{80}
\Wn{d194}{d113}{919.6}{12}{194}
\Wn{d155}{d156}{580.3}{13}{155}
\Bn{d17}{d156}{607}{13}{17}
\Bn{d25}{d136b}{634.8}{13}{25}
\Bn{d85}{d38}{771.4}{13}{85}
\Bn{d64}{d69}{798.2}{13}{64}
\Wn{d154}{d80}{880.3}{13}{154}
\Wn{d117}{d194}{919.6}{13}{117}
\Bn{d39}{d155}{567.8}{14}{39}
\Bn{d86}{d155}{593.7}{14}{86}
\Bn{d48}{d25}{634.8}{14}{48}
\Bn{d88}{d154}{838.4}{14}{88}
\Bn{d76}{d154}{866}{14}{76}
\Bn{d72}{d154}{892.8}{14}{72}
\Bn{d61}{d117}{919.6}{14}{61}
\end{scope}
% ---------------- captions ----------------
\node[lbl] (capA) at (236,788) {(A)};
\node[lbl] (capB) at (992,706) {(B)};
\node[lbl] (capC) at (600,1201) {(C)};
\node[lbl] (capD) at (612,1647) {(D)};
\end{tikzpicture}
\end{document}
